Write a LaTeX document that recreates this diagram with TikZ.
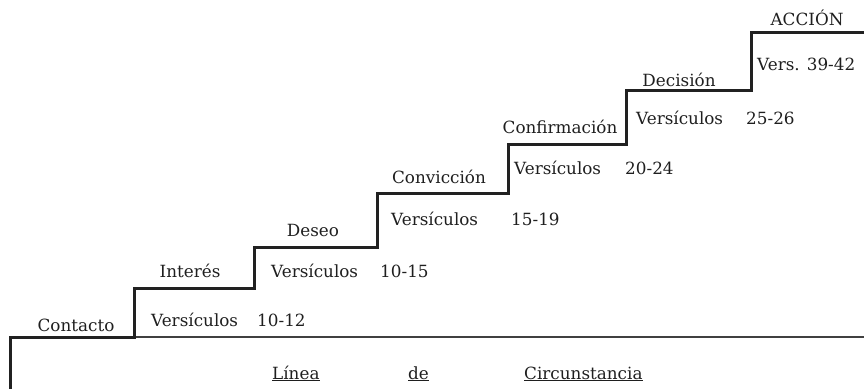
\documentclass[tikz,border=0pt]{standalone}
\usepackage{fontspec}
\setmainfont{DejaVu Serif}
\begin{document}
\begin{tikzpicture}[x=1pt,y=-1pt,
  stair/.style={line width=3pt,draw=black!87,line join=miter},
  baseline line/.style={line width=1.5pt,draw=black!75},
  lbl/.style={anchor=base,inner sep=0pt,font=\fontsize{16.8}{19}\selectfont,text=black!88},
  lbll/.style={lbl,anchor=base west}]
\useasboundingbox (0,0) rectangle (864,388);
% base line of circumstance
\draw[baseline line] (134,337) -- (864,337);
% staircase
\draw[stair] (10,392) -- (10,337) -- (134,337) -- (134,288) -- (254,288) -- (254,247)
  -- (377,247) -- (377,193) -- (508,193) -- (508,144) -- (626,144) -- (626,90)
  -- (751,90) -- (751,32) -- (866,32);
% step titles
\node[lbl] (contacto) at (76,331) {Contacto};
\node[lbl] (interes) at (190,277) {Interés};
\node[lbl] (deseo) at (313,236) {Deseo};
\node[lbl] (conviccion) at (439,183) {Convicción};
\node[lbl] (confirmacion) at (560,133) {Confirmación};
\node[lbl] (decision) at (679,86) {Decisión};
\node[lbl] (accion) at (807,25) {ACCIÓN};
% verses
\node[lbll] (v1) at (151,326) {Versículos};
\node[lbll] (n1) at (257,326) {10-12};
\node[lbll] (v2) at (271,277) {Versículos};
\node[lbll] (n2) at (380,277) {10-15};
\node[lbll] (v3) at (391,225) {Versículos};
\node[lbll] (n3) at (511,225) {15-19};
\node[lbll] (v4) at (514,174) {Versículos};
\node[lbll] (n4) at (625,174) {20-24};
\node[lbll] (v5) at (636,124) {Versículos};
\node[lbll] (n5) at (746,124) {25-26};
\node[lbll] (v6) at (757,70) {Vers. 39-42};
% circumstance line label
\node[lbll] (linea) at (272,379) {\underline{Línea}};
\node[lbll] (de) at (408,379) {\underline{de}};
\node[lbll] (circ) at (524,379) {\underline{Circunstancia}};
\end{tikzpicture}
\end{document}
